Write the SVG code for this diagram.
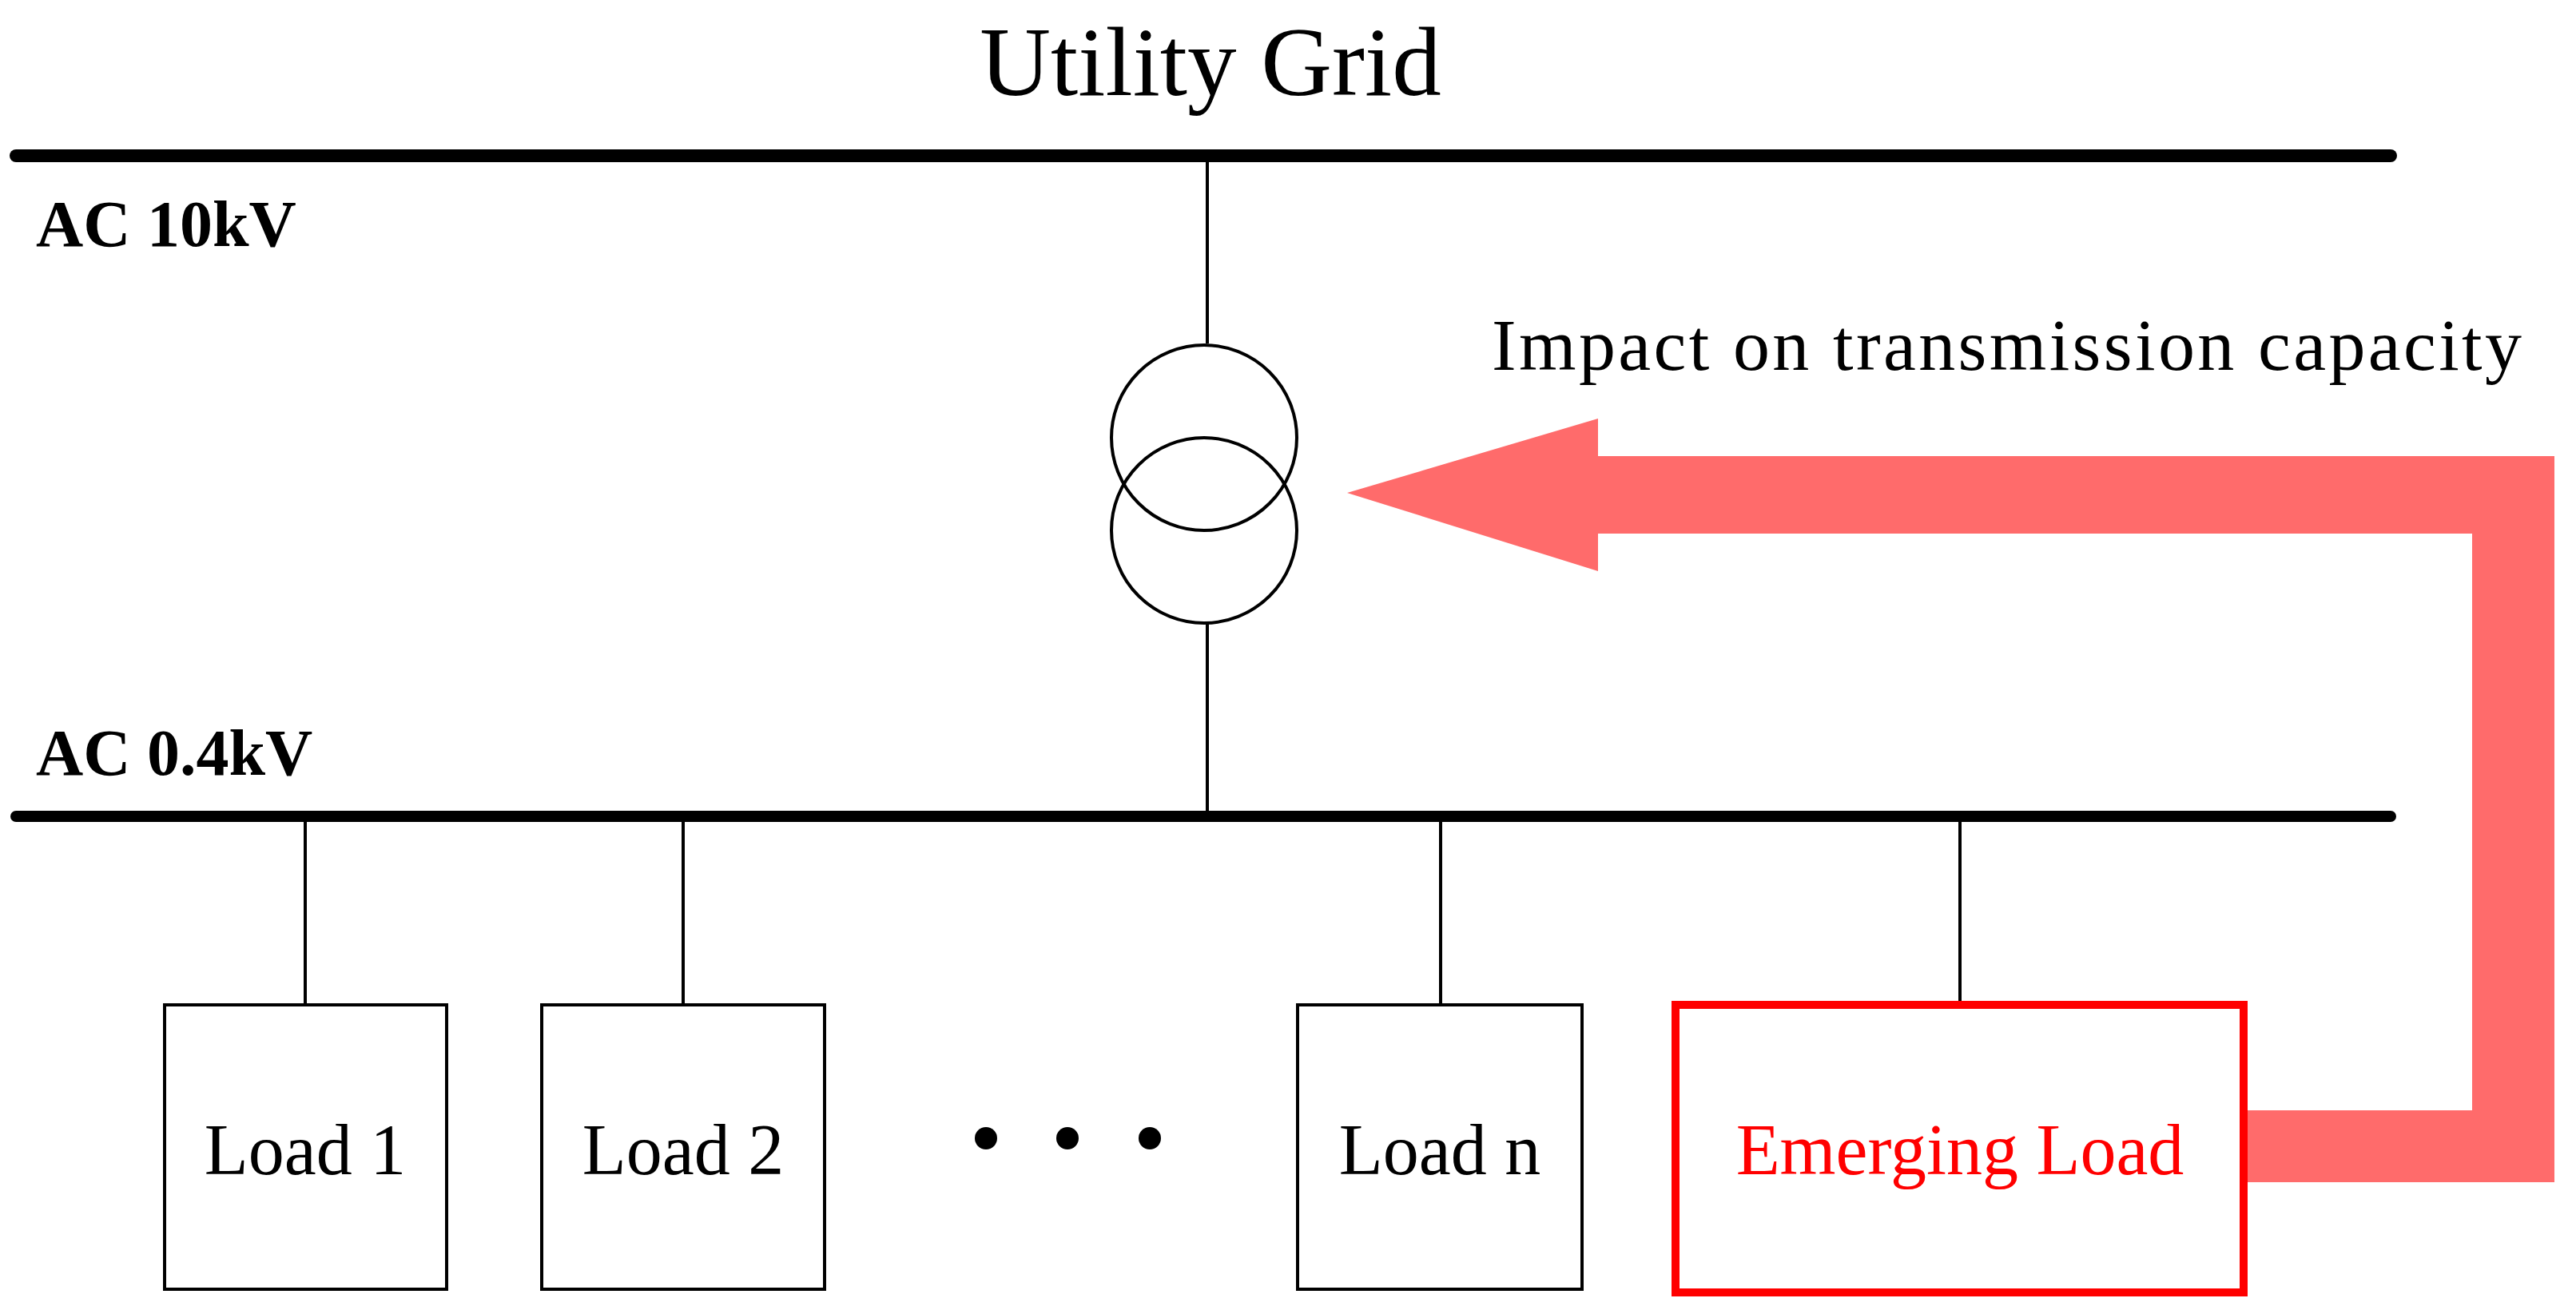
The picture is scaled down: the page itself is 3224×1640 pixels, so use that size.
<svg xmlns="http://www.w3.org/2000/svg" width="3224" height="1640" viewBox="0 0 3224 1640">
<style>
.t{font-family:"Liberation Serif",serif;fill:#000}
.b{font-family:"Liberation Serif",serif;font-weight:bold;font-size:82px}
.w{stroke:#000;stroke-width:4;fill:none}
.box{fill:#fff;stroke:#000;stroke-width:4}
.lbl{font-family:"Liberation Serif",serif;font-size:90px;text-anchor:middle}
</style>
<rect width="3224" height="1640" fill="#fff"/>
<text class="t" x="1515" y="119" font-size="123" text-anchor="middle">Utility Grid</text>
<g id="bus10"><line x1="20" y1="195" x2="2992" y2="195" stroke="#000" stroke-width="16" stroke-linecap="round"/><text class="b" x="45" y="308">AC  10kV</text></g>
<g id="bus04"><line x1="20" y1="1022" x2="2992" y2="1022" stroke="#000" stroke-width="14" stroke-linecap="round"/><text class="b" x="45" y="970">AC  0.4kV</text></g>
<g id="connectors">
<line class="w" x1="1511" y1="195" x2="1511" y2="430"/>
<line class="w" x1="1511" y1="780" x2="1511" y2="1022"/>
<line class="w" x1="382" y1="1022" x2="382" y2="1258"/>
<line class="w" x1="855" y1="1022" x2="855" y2="1258"/>
<line class="w" x1="1803" y1="1022" x2="1803" y2="1258"/>
<line class="w" x1="2453" y1="1022" x2="2453" y2="1258"/>
<polygon fill="#FF6B6B" points="2808,1390 3094,1390 3094,668 2000,668 2000,715 1686,617 2000,524 2000,571 3197,571 3197,1480 2808,1480"/>
</g>
<g id="transformer"><circle class="w" cx="1507" cy="548" r="116"/><circle class="w" cx="1507" cy="664" r="116"/></g>
<text class="t" x="1867" y="463" font-size="92" textLength="1289">Impact on transmission capacity</text>
<g id="load1"><rect class="box" x="206" y="1258" width="353" height="356"/><text class="lbl" x="382" y="1470">Load 1</text></g>
<g id="load2"><rect class="box" x="678" y="1258" width="354" height="356"/><text class="lbl" x="855" y="1470">Load 2</text></g>
<g id="dots"><circle cx="1234" cy="1425" r="14"/><circle cx="1336" cy="1425" r="14"/><circle cx="1439" cy="1425" r="14"/></g>
<g id="loadn"><rect class="box" x="1624" y="1258" width="356" height="356"/><text class="lbl" x="1802" y="1470">Load n</text></g>
<g id="emerging"><rect x="2097" y="1258" width="711" height="360" fill="#fff" stroke="#FF0000" stroke-width="10"/><text class="lbl" x="2453" y="1470" fill="#FF0000">Emerging Load</text></g>
</svg>
